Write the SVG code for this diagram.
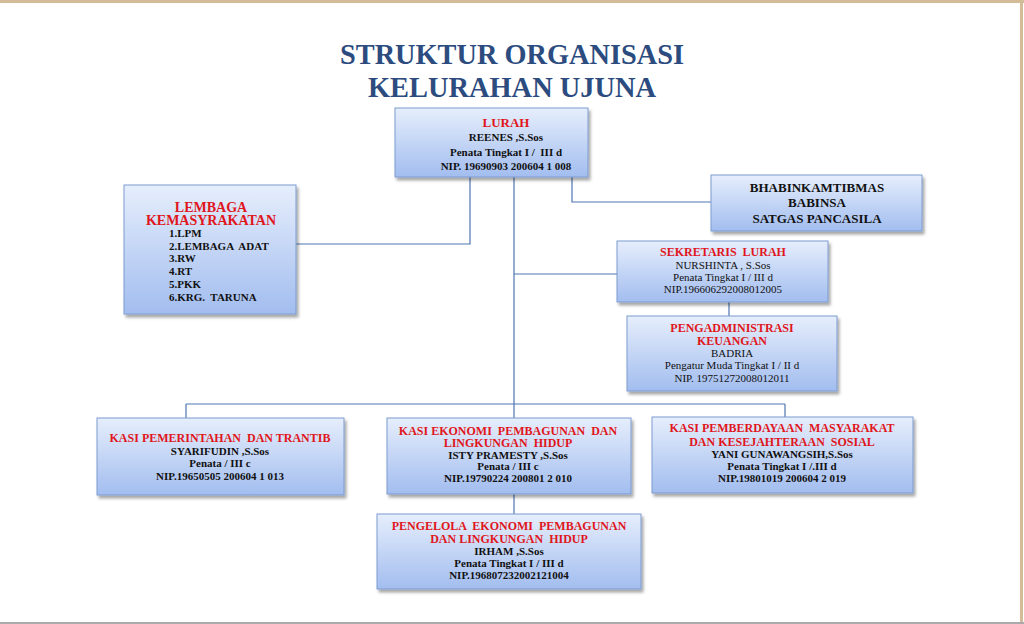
<svg xmlns="http://www.w3.org/2000/svg" width="1024" height="624" viewBox="0 0 1024 624">
<defs>
<linearGradient id="g" x1="0" y1="0" x2="0" y2="1">
<stop offset="0" stop-color="#e6eefc"/>
<stop offset="1" stop-color="#a2bdef"/>
</linearGradient>
<filter id="sh" x="-10%" y="-10%" width="130%" height="140%">
<feDropShadow dx="2" dy="3" stdDeviation="1.5" flood-color="#000" flood-opacity="0.35"/>
</filter>
</defs>
<style>
.box{fill:url(#g);stroke:#7d9bcf;stroke-width:1;filter:url(#sh)}
.t{font-family:"Liberation Serif","Times New Roman",serif;text-anchor:middle;fill:#111;white-space:pre}
.l{text-anchor:start}
.r{fill:#e0161c;font-weight:bold;font-size:12px}
.b{font-weight:bold;font-size:11px}
.n{font-size:11px}
.title{font-family:"Liberation Serif","Times New Roman",serif;font-weight:bold;font-size:29px;fill:#2c4c80;text-anchor:middle}
.c{stroke:#4f76b3;stroke-width:1.2;fill:none}
</style>
<rect x="0" y="0" width="1024" height="624" fill="#ffffff"/>
<line x1="0" y1="1.5" x2="1024" y2="1.5" stroke="#d5bc98" stroke-width="3"/>
<line x1="1021.5" y1="0" x2="1021.5" y2="624" stroke="#d5bc98" stroke-width="3"/>
<line x1="0" y1="623" x2="1024" y2="623" stroke="#aaaaaa" stroke-width="2"/>

<g id="title">
<text class="title" x="512" y="64" textLength="344" lengthAdjust="spacingAndGlyphs">STRUKTUR ORGANISASI</text>
<text class="title" x="512" y="97" textLength="288" lengthAdjust="spacingAndGlyphs">KELURAHAN UJUNA</text>
</g>

<g id="connectors">
<polyline class="c" points="470,177 470,244 296,244"/>
<polyline class="c" points="572,177 572,202 711,202"/>
<line class="c" x1="514" y1="177" x2="514" y2="418"/>
<line class="c" x1="514" y1="274" x2="617" y2="274"/>
<line class="c" x1="729" y1="302" x2="729" y2="316"/>
<line class="c" x1="186" y1="404" x2="785" y2="404"/>
<line class="c" x1="186" y1="404" x2="186" y2="418"/>
<line class="c" x1="785" y1="404" x2="785" y2="417"/>
<line class="c" x1="514" y1="494" x2="514" y2="514"/>
</g>

<g id="lurah">
<rect class="box" x="395" y="108" width="193" height="69"/>
<text class="t r" x="506" y="127" style="font-size:13px">LURAH</text>
<text class="t b" x="506" y="141">REENES ,S.Sos</text>
<text class="t b" x="506" y="156">Penata Tingkat I /  III d</text>
<text class="t b" x="506" y="170">NIP. 19690903 200604 1 008</text>
</g>

<g id="lembaga">
<rect class="box" x="124" y="185" width="172" height="129"/>
<text class="t r" x="211" y="212" style="font-size:14px">LEMBAGA</text>
<text class="t r" x="211" y="225" style="font-size:14px">KEMASYRAKATAN</text>
<text class="t b l" x="169" y="237">1.LPM</text>
<text class="t b l" x="169" y="250">2.LEMBAGA  ADAT</text>
<text class="t b l" x="169" y="262">3.RW</text>
<text class="t b l" x="169" y="275">4.RT</text>
<text class="t b l" x="169" y="288">5.PKK</text>
<text class="t b l" x="169" y="301">6.KRG.  TARUNA</text>
</g>

<g id="bhabin">
<rect class="box" x="711" y="175" width="211" height="56"/>
<text class="t b" x="817" y="192" style="font-size:13px">BHABINKAMTIBMAS</text>
<text class="t b" x="817" y="207" style="font-size:13px">BABINSA</text>
<text class="t b" x="817" y="223" style="font-size:13px">SATGAS PANCASILA</text>
</g>

<g id="sekretaris">
<rect class="box" x="617" y="241" width="211" height="61"/>
<text class="t r" x="723" y="256">SEKRETARIS  LURAH</text>
<text class="t n" x="723" y="269">NURSHINTA , S.Sos</text>
<text class="t n" x="723" y="281">Penata Tingkat I / III d</text>
<text class="t n" x="723" y="293">NIP.196606292008012005</text>
</g>

<g id="keuangan">
<rect class="box" x="627" y="316" width="210" height="75"/>
<text class="t r" x="732" y="332">PENGADMINISTRASI</text>
<text class="t r" x="732" y="345">KEUANGAN</text>
<text class="t n" x="732" y="357">BADRIA</text>
<text class="t n" x="732" y="369">Pengatur Muda Tingkat I / II d</text>
<text class="t n" x="732" y="382">NIP. 19751272008012011</text>
</g>

<g id="kasi-pemerintahan">
<rect class="box" x="97" y="418" width="247" height="77"/>
<text class="t r" x="220" y="442">KASI PEMERINTAHAN  DAN TRANTIB</text>
<text class="t b" x="220" y="455">SYARIFUDIN ,S.Sos</text>
<text class="t b" x="220" y="467">Penata / III c</text>
<text class="t b" x="220" y="480">NIP.19650505 200604 1 013</text>
</g>

<g id="kasi-ekonomi">
<rect class="box" x="387" y="418" width="244" height="76"/>
<text class="t r" x="508" y="435">KASI EKONOMI  PEMBAGUNAN  DAN</text>
<text class="t r" x="508" y="447">LINGKUNGAN  HIDUP</text>
<text class="t b" x="508" y="459">ISTY PRAMESTY ,S.Sos</text>
<text class="t b" x="508" y="470">Penata / III c</text>
<text class="t b" x="508" y="482">NIP.19790224 200801 2 010</text>
</g>

<g id="kasi-pemberdayaan">
<rect class="box" x="652" y="417" width="261" height="76"/>
<text class="t r" x="782" y="432">KASI PEMBERDAYAAN  MASYARAKAT</text>
<text class="t r" x="782" y="446">DAN KESEJAHTERAAN  SOSIAL</text>
<text class="t b" x="782" y="458">YANI GUNAWANGSIH,S.Sos</text>
<text class="t b" x="782" y="470">Penata Tingkat I /.III d</text>
<text class="t b" x="782" y="482">NIP.19801019 200604 2 019</text>
</g>

<g id="pengelola">
<rect class="box" x="377" y="514" width="264" height="75"/>
<text class="t r" x="509" y="530">PENGELOLA  EKONOMI  PEMBAGUNAN</text>
<text class="t r" x="509" y="543">DAN LINGKUNGAN  HIDUP</text>
<text class="t b" x="509" y="555">IRHAM ,S.Sos</text>
<text class="t b" x="509" y="567">Penata Tingkat I / III d</text>
<text class="t b" x="509" y="579">NIP.196807232002121004</text>
</g>
</svg>
